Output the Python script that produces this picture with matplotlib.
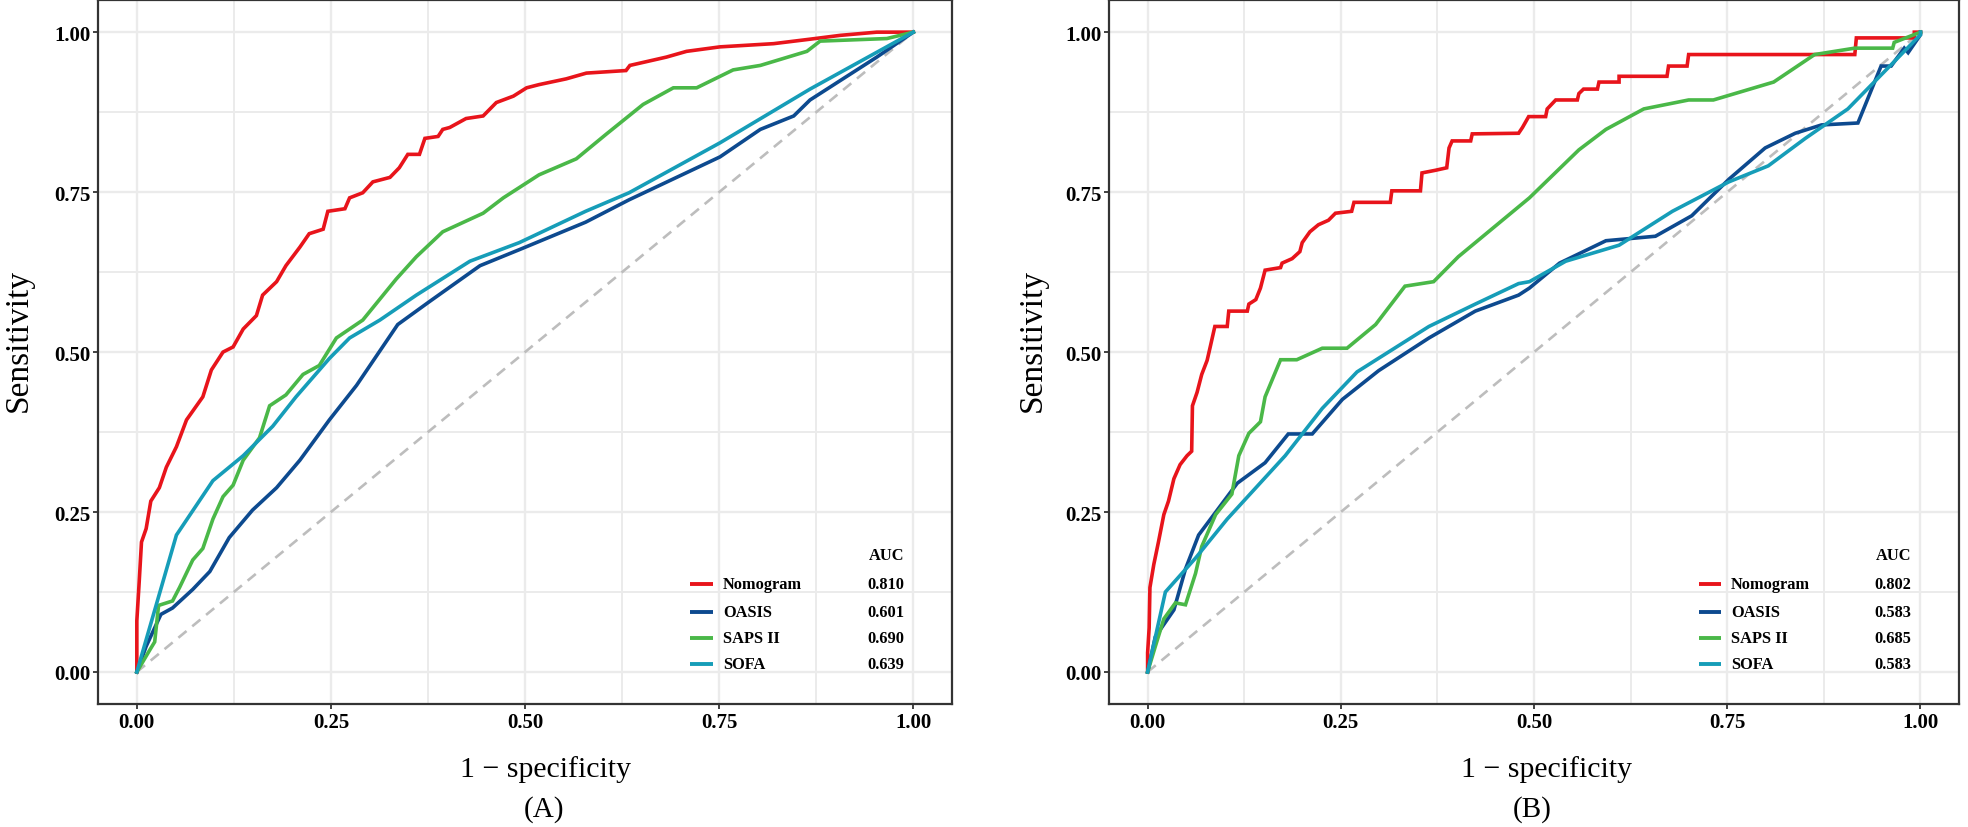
import matplotlib
matplotlib.use("Agg")
import matplotlib.pyplot as plt
from matplotlib.ticker import MultipleLocator

plt.rcParams['font.family'] = ['Liberation Serif', 'DejaVu Serif']

# ---------- data ----------
models = ['Nomogram', 'OASIS', 'SAPS II', 'SOFA']
colors = ['#e8141b', '#0d4a8f', '#4ab848', '#169db8']

# panel A
auc_a = ['0.810', '0.601', '0.690', '0.639']

nomo_a_x = [0, 0, 0.003, 0.006, 0.012, 0.018, 0.029, 0.038, 0.051, 0.064, 0.085, 0.096,
            0.111, 0.124, 0.137, 0.154, 0.162, 0.18, 0.192, 0.21, 0.222, 0.24, 0.246,
            0.268, 0.274, 0.291, 0.304, 0.326, 0.338, 0.349, 0.364, 0.371, 0.388, 0.394,
            0.403, 0.424, 0.446, 0.463, 0.485, 0.502, 0.518, 0.553, 0.579, 0.63, 0.635,
            0.682, 0.708, 0.751, 0.82, 0.867, 0.906, 0.953, 1.0]
nomo_a_y = [0, 0.08, 0.14, 0.203, 0.224, 0.267, 0.288, 0.32, 0.352, 0.394, 0.43, 0.472,
            0.50, 0.508, 0.536, 0.557, 0.589, 0.61, 0.635, 0.664, 0.685, 0.692, 0.72,
            0.724, 0.741, 0.749, 0.766, 0.773, 0.788, 0.809, 0.809, 0.834, 0.837, 0.848,
            0.851, 0.865, 0.869, 0.89, 0.90, 0.913, 0.918, 0.927, 0.936, 0.94, 0.948,
            0.961, 0.97, 0.977, 0.982, 0.989, 0.995, 1.0, 1.0]

oasis_a_x = [0, 0.012, 0.031, 0.046, 0.072, 0.094, 0.119, 0.149, 0.18, 0.21, 0.248, 0.283,
             0.336, 0.377, 0.442, 0.4925, 0.578, 0.634, 0.751, 0.803, 0.846, 0.867, 0.953, 1.0]
oasis_a_y = [0, 0.04, 0.09, 0.10, 0.129, 0.157, 0.21, 0.253, 0.288, 0.331, 0.394, 0.448,
             0.543, 0.579, 0.635, 0.66, 0.703, 0.738, 0.805, 0.848, 0.869, 0.894, 0.961, 1.0]

saps_a_x = [0, 0.016, 0.023, 0.028, 0.046, 0.055, 0.072, 0.085, 0.098, 0.111, 0.124, 0.137,
            0.158, 0.171, 0.192, 0.214, 0.235, 0.257, 0.291, 0.334, 0.36, 0.394, 0.446,
            0.472, 0.518, 0.566, 0.605, 0.652, 0.691, 0.721, 0.768, 0.803, 0.863, 0.88,
            0.966, 1.0]
saps_a_y = [0, 0.033, 0.047, 0.104, 0.111, 0.132, 0.175, 0.193, 0.239, 0.274, 0.292, 0.331,
            0.366, 0.416, 0.433, 0.465, 0.479, 0.522, 0.55, 0.614, 0.649, 0.688, 0.717,
            0.741, 0.777, 0.802, 0.841, 0.887, 0.913, 0.913, 0.941, 0.948, 0.97, 0.986,
            0.99, 1.0]

sofa_a_x = [0, 0.051, 0.098, 0.137, 0.175, 0.205, 0.248, 0.274, 0.313, 0.36, 0.429, 0.4925,
            0.578, 0.634, 0.751, 0.867, 1.0]
sofa_a_y = [0, 0.214, 0.299, 0.338, 0.384, 0.43, 0.49, 0.522, 0.55, 0.589, 0.642, 0.671,
            0.72, 0.749, 0.827, 0.911, 1.0]

# panel B
auc_b = ['0.802', '0.583', '0.685', '0.583']

nomo_b_x = [0, 0, 0.002, 0.003, 0.008, 0.014, 0.021, 0.027, 0.034, 0.042, 0.051, 0.057,
            0.058, 0.064, 0.07, 0.077, 0.081, 0.087, 0.103, 0.105, 0.129, 0.131, 0.14,
            0.146, 0.152, 0.172, 0.174, 0.187, 0.197, 0.2, 0.21, 0.221, 0.234, 0.243,
            0.264, 0.267, 0.314, 0.316, 0.353, 0.355, 0.372, 0.387, 0.39, 0.394, 0.418,
            0.42, 0.48, 0.485, 0.493, 0.515, 0.517, 0.528, 0.556, 0.558, 0.564, 0.582,
            0.584, 0.61, 0.61, 0.672, 0.674, 0.698, 0.7, 0.915, 0.917, 0.992, 0.992, 1.0]
nomo_b_y = [0, 0.03, 0.069, 0.132, 0.168, 0.203, 0.246, 0.267, 0.302, 0.324, 0.338, 0.345,
            0.416, 0.437, 0.465, 0.487, 0.508, 0.54, 0.54, 0.564, 0.564, 0.575, 0.582,
            0.60, 0.628, 0.632, 0.639, 0.646, 0.657, 0.671, 0.688, 0.699, 0.706, 0.717,
            0.72, 0.734, 0.734, 0.752, 0.752, 0.78, 0.784, 0.788, 0.819, 0.83, 0.83,
            0.841, 0.842, 0.851, 0.868, 0.868, 0.88, 0.894, 0.894, 0.904, 0.911, 0.911,
            0.922, 0.922, 0.931, 0.931, 0.947, 0.947, 0.965, 0.965, 0.991, 0.991, 1.0, 1.0]

oasis_b_x = [0, 0.01, 0.034, 0.049, 0.066, 0.079, 0.116, 0.152, 0.182, 0.213, 0.252, 0.299,
             0.364, 0.424, 0.48, 0.494, 0.533, 0.593, 0.657, 0.704, 0.752, 0.799, 0.838,
             0.872, 0.919, 0.949, 0.962, 0.979, 0.984, 1.0, 1.0]
oasis_b_y = [0, 0.055, 0.097, 0.161, 0.214, 0.235, 0.295, 0.327, 0.372, 0.372, 0.426, 0.471,
             0.522, 0.564, 0.589, 0.6, 0.639, 0.674, 0.681, 0.713, 0.77, 0.819, 0.842,
             0.855, 0.858, 0.947, 0.947, 0.975, 0.968, 0.996, 1.0]

saps_b_x = [0, 0.01, 0.021, 0.036, 0.049, 0.062, 0.07, 0.088, 0.109, 0.118, 0.131, 0.146,
            0.152, 0.172, 0.193, 0.226, 0.258, 0.295, 0.333, 0.37, 0.402, 0.459, 0.494,
            0.558, 0.593, 0.642, 0.7, 0.732, 0.81, 0.863, 0.915, 0.964, 0.966, 1.0]
saps_b_y = [0, 0.04, 0.083, 0.108, 0.105, 0.154, 0.196, 0.246, 0.278, 0.338, 0.373, 0.391,
            0.43, 0.488, 0.488, 0.506, 0.506, 0.543, 0.603, 0.61, 0.649, 0.706, 0.741,
            0.816, 0.848, 0.88, 0.894, 0.894, 0.922, 0.965, 0.975, 0.975, 0.984, 1.0]

sofa_b_x = [0, 0.023, 0.062, 0.103, 0.178, 0.226, 0.271, 0.364, 0.424, 0.48, 0.494, 0.541,
            0.61, 0.679, 0.752, 0.803, 0.851, 0.906, 0.966, 1.0, 1.0]
sofa_b_y = [0, 0.125, 0.178, 0.239, 0.338, 0.412, 0.469, 0.54, 0.575, 0.607, 0.61, 0.642,
            0.667, 0.72, 0.766, 0.791, 0.834, 0.88, 0.954, 0.996, 1.0]

panels = [
    dict(curves=[(nomo_a_x, nomo_a_y), (oasis_a_x, oasis_a_y), (saps_a_x, saps_a_y), (sofa_a_x, sofa_a_y)],
         auc=auc_a, tag='(A)', rect=[0.0498, 0.1486, 0.434, 0.850], xlab=546 / 1968, tagx=544 / 1968,
         ylab=18 / 1968),
    dict(curves=[(nomo_b_x, nomo_b_y), (oasis_b_x, oasis_b_y), (saps_b_x, saps_b_y), (sofa_b_x, sofa_b_y)],
         auc=auc_b, tag='(B)', rect=[0.5635, 0.1486, 0.432, 0.850], xlab=1547 / 1968, tagx=1532 / 1968,
         ylab=1032 / 1968),
]

fig = plt.figure(figsize=(19.68, 8.28), dpi=100)

for p in panels:
    ax = fig.add_axes(p['rect'])
    ax.set_xlim(-0.05, 1.05)
    ax.set_ylim(-0.05, 1.05)
    ax.xaxis.set_major_locator(MultipleLocator(0.25))
    ax.yaxis.set_major_locator(MultipleLocator(0.25))
    ax.xaxis.set_minor_locator(MultipleLocator(0.125))
    ax.yaxis.set_minor_locator(MultipleLocator(0.125))
    ax.grid(which='major', color='#ebebeb', lw=1.7)
    ax.grid(which='minor', color='#ebebeb', lw=1.4)
    ax.set_axisbelow(True)
    ax.tick_params(which='minor', length=0)
    ax.tick_params(which='major', length=3.5, width=1.3, color='#333333',
                   labelsize=15, pad=2, labelcolor='black')
    ax.xaxis.set_major_formatter(matplotlib.ticker.FormatStrFormatter('%.2f'))
    ax.yaxis.set_major_formatter(matplotlib.ticker.FormatStrFormatter('%.2f'))
    for lab in ax.get_xticklabels() + ax.get_yticklabels():
        lab.set_fontweight('bold')
    for s in ax.spines.values():
        s.set_color('#333333')
        s.set_linewidth(1.6)

    # chance line
    ax.plot([0, 1], [0, 1], color='#bdbdbd', lw=1.9, ls=(0, (4, 2.8)), zorder=2)

    for (cx, cy), c in zip(p['curves'], colors):
        ax.plot(cx, cy, color=c, lw=2.6, solid_joinstyle='miter', zorder=3)

    # legend as table: key, name, AUC
    ax.text(0.988, 0.183, 'AUC', ha='right', va='center', fontsize=11.8, fontweight='bold')
    rows = [0.1375, 0.093, 0.053, 0.012]
    for name, c, a, ry in zip(models, colors, p['auc'], rows):
        ax.plot([0.713, 0.742], [ry, ry], color=c, lw=2.8, solid_capstyle='butt', zorder=4)
        ax.text(0.755, ry, name, ha='left', va='center', fontsize=11.8, fontweight='bold')
        ax.text(0.988, ry, a, ha='right', va='center', fontsize=11.8, fontweight='bold')

    fig.text(p['ylab'], 1 - 340 / 828, 'Sensitivity', rotation=90, ha='center', va='center', fontsize=24)
    fig.text(p['xlab'], 1 - 770 / 828, '1 \u2212 specificity', ha='center', va='center', fontsize=21.5)
    fig.text(p['tagx'], 1 - 810 / 828, p['tag'], ha='center', va='center', fontsize=21)

fig.savefig('out.png', dpi=100)
